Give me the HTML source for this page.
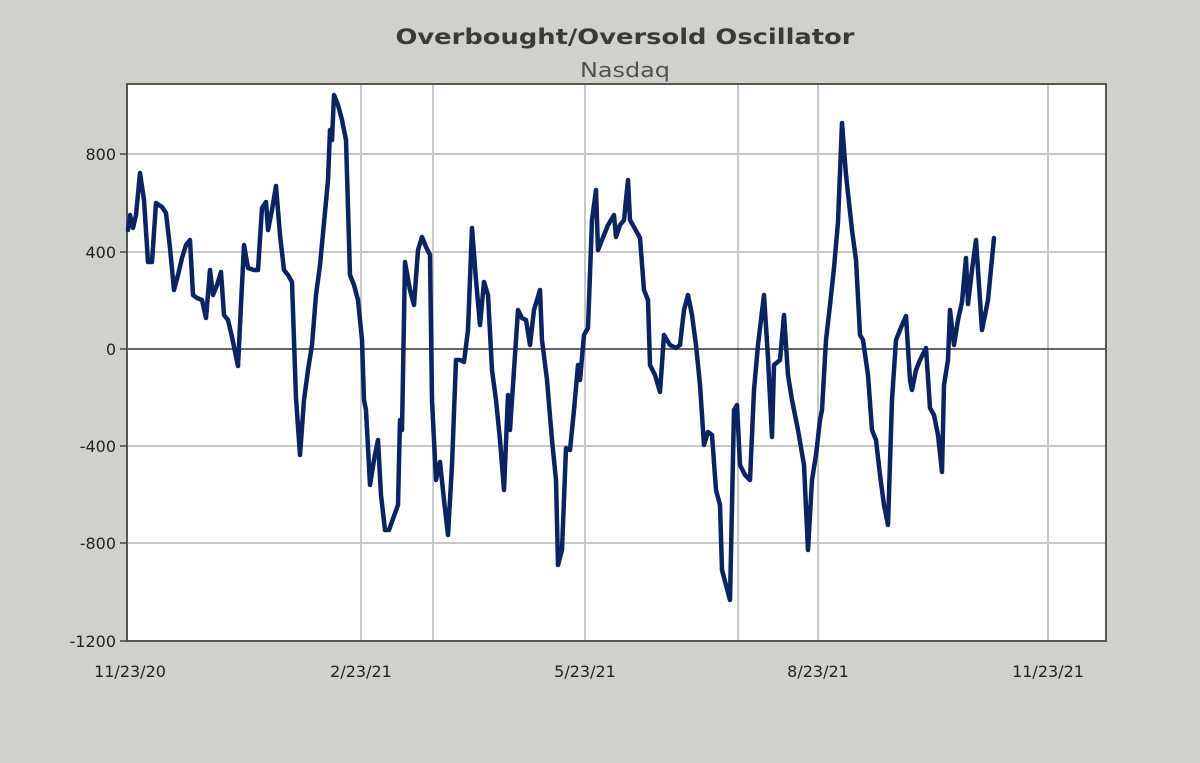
<!DOCTYPE html>
<html><head><style>html,body{margin:0;padding:0;background:#cfd2cb;}</style></head>
<body>
<svg width="1200" height="763" xmlns="http://www.w3.org/2000/svg" style="display:block">
<rect width="1200" height="763" fill="#cfd2cb"/>
<text x="625" y="44" text-anchor="middle" font-family="DejaVu Sans, sans-serif" font-weight="bold" font-size="21" fill="#3a3a3a" textLength="459" lengthAdjust="spacingAndGlyphs">Overbought/Oversold  Oscillator</text>
<text x="625" y="77" text-anchor="middle" font-family="DejaVu Sans, sans-serif" font-size="20" fill="#505050" textLength="90" lengthAdjust="spacingAndGlyphs">Nasdaq</text>
<rect x="127" y="84" width="979" height="557" fill="#ffffff"/>
<g stroke="#c8c8c8" stroke-width="2">
<line x1="127" y1="154" x2="1106" y2="154"/>
<line x1="127" y1="252" x2="1106" y2="252"/>
<line x1="127" y1="446" x2="1106" y2="446"/>
<line x1="127" y1="543" x2="1106" y2="543"/>
<line x1="361" y1="84" x2="361" y2="641"/>
<line x1="433" y1="84" x2="433" y2="641"/>
<line x1="585" y1="84" x2="585" y2="641"/>
<line x1="738" y1="84" x2="738" y2="641"/>
<line x1="818" y1="84" x2="818" y2="641"/>
<line x1="1048" y1="84" x2="1048" y2="641"/>
</g>
<line x1="127" y1="349" x2="1106" y2="349" stroke="#333" stroke-width="1.5"/>
<rect x="127" y="84" width="979" height="557" fill="none" stroke="#555" stroke-width="2"/>
<g stroke="#444" stroke-width="1.5">
<line x1="120" y1="154" x2="127" y2="154"/><line x1="120" y1="252" x2="127" y2="252"/>
<line x1="120" y1="349" x2="127" y2="349"/><line x1="120" y1="446" x2="127" y2="446"/>
<line x1="120" y1="543" x2="127" y2="543"/><line x1="120" y1="641" x2="127" y2="641"/>
</g>
<g font-family="DejaVu Sans, sans-serif" font-size="16" fill="#222" text-anchor="end">
<text x="116" y="160">800</text><text x="116" y="258">400</text><text x="116" y="355">0</text>
<text x="116" y="452">-400</text><text x="116" y="549">-800</text><text x="116" y="647">-1200</text>
</g>
<g font-family="DejaVu Sans, sans-serif" font-size="16" fill="#222" text-anchor="middle">
<text x="130" y="677">11/23/20</text><text x="361" y="677">2/23/21</text><text x="585" y="677">5/23/21</text>
<text x="818" y="677">8/23/21</text><text x="1048" y="677">11/23/21</text>
</g>
<polyline fill="none" stroke="#0a2461" stroke-width="4.5" stroke-linejoin="round" stroke-linecap="round" points="128,230 130,215 133,228 136,215 140,173 144,200 148,262 152,262 156,203 162,207 166,213 170,248 174,290 178,275 182,258 186,245 190,240 193,295 197,298 202,300 206,318 210,270 213,295 217,285 221,272 224,315 228,320 232,337 238,366 241,305 244,245 248,268 254,270 258,270 262,208 266,202 268,230 272,210 276,186 280,235 284,270 288,275 292,282 296,398 300,455 304,400 308,370 312,345 316,295 320,265 324,223 328,180 330,130 332,140 334,95 338,105 342,120 346,140 350,275 354,285 358,300 362,340 364,400 366,410 370,485 374,460 378,440 381,495 385,530 389,530 394,516 398,505 400,420 402,430 405,262 410,290 414,305 418,250 422,237 426,247 430,255 432,400 436,480 440,462 444,500 448,535 452,465 456,360 460,360 464,362 468,330 472,228 476,280 480,325 484,282 488,295 492,370 496,400 500,440 504,490 508,395 510,430 514,370 518,310 522,318 526,320 530,345 534,310 540,290 542,340 547,380 552,440 556,480 558,565 562,550 566,448 570,450 574,410 578,365 580,380 584,335 588,328 592,220 596,190 598,250 602,240 608,225 614,215 616,237 620,225 624,220 628,180 630,220 634,227 640,238 644,290 648,300 650,365 655,375 660,392 664,335 670,345 676,348 680,345 684,310 688,295 692,315 696,345 700,385 704,445 708,432 712,435 716,490 720,505 722,570 726,585 730,600 734,410 737,405 740,465 745,475 750,480 754,390 758,345 764,295 768,358 772,437 774,365 780,360 784,315 788,375 792,400 798,430 804,465 808,550 812,480 816,455 820,420 822,410 826,340 830,305 834,268 838,222 842,123 846,175 852,230 856,260 860,335 863,340 868,375 872,430 876,440 880,475 884,505 888,525 892,400 896,340 902,325 906,316 910,380 912,390 916,370 920,360 926,348 930,408 934,415 938,435 942,472 944,385 948,360 950,310 954,345 958,320 962,302 966,258 968,304 972,270 976,240 980,300 982,330 986,310 988,300 994,238"/>
</svg>
</body></html>
